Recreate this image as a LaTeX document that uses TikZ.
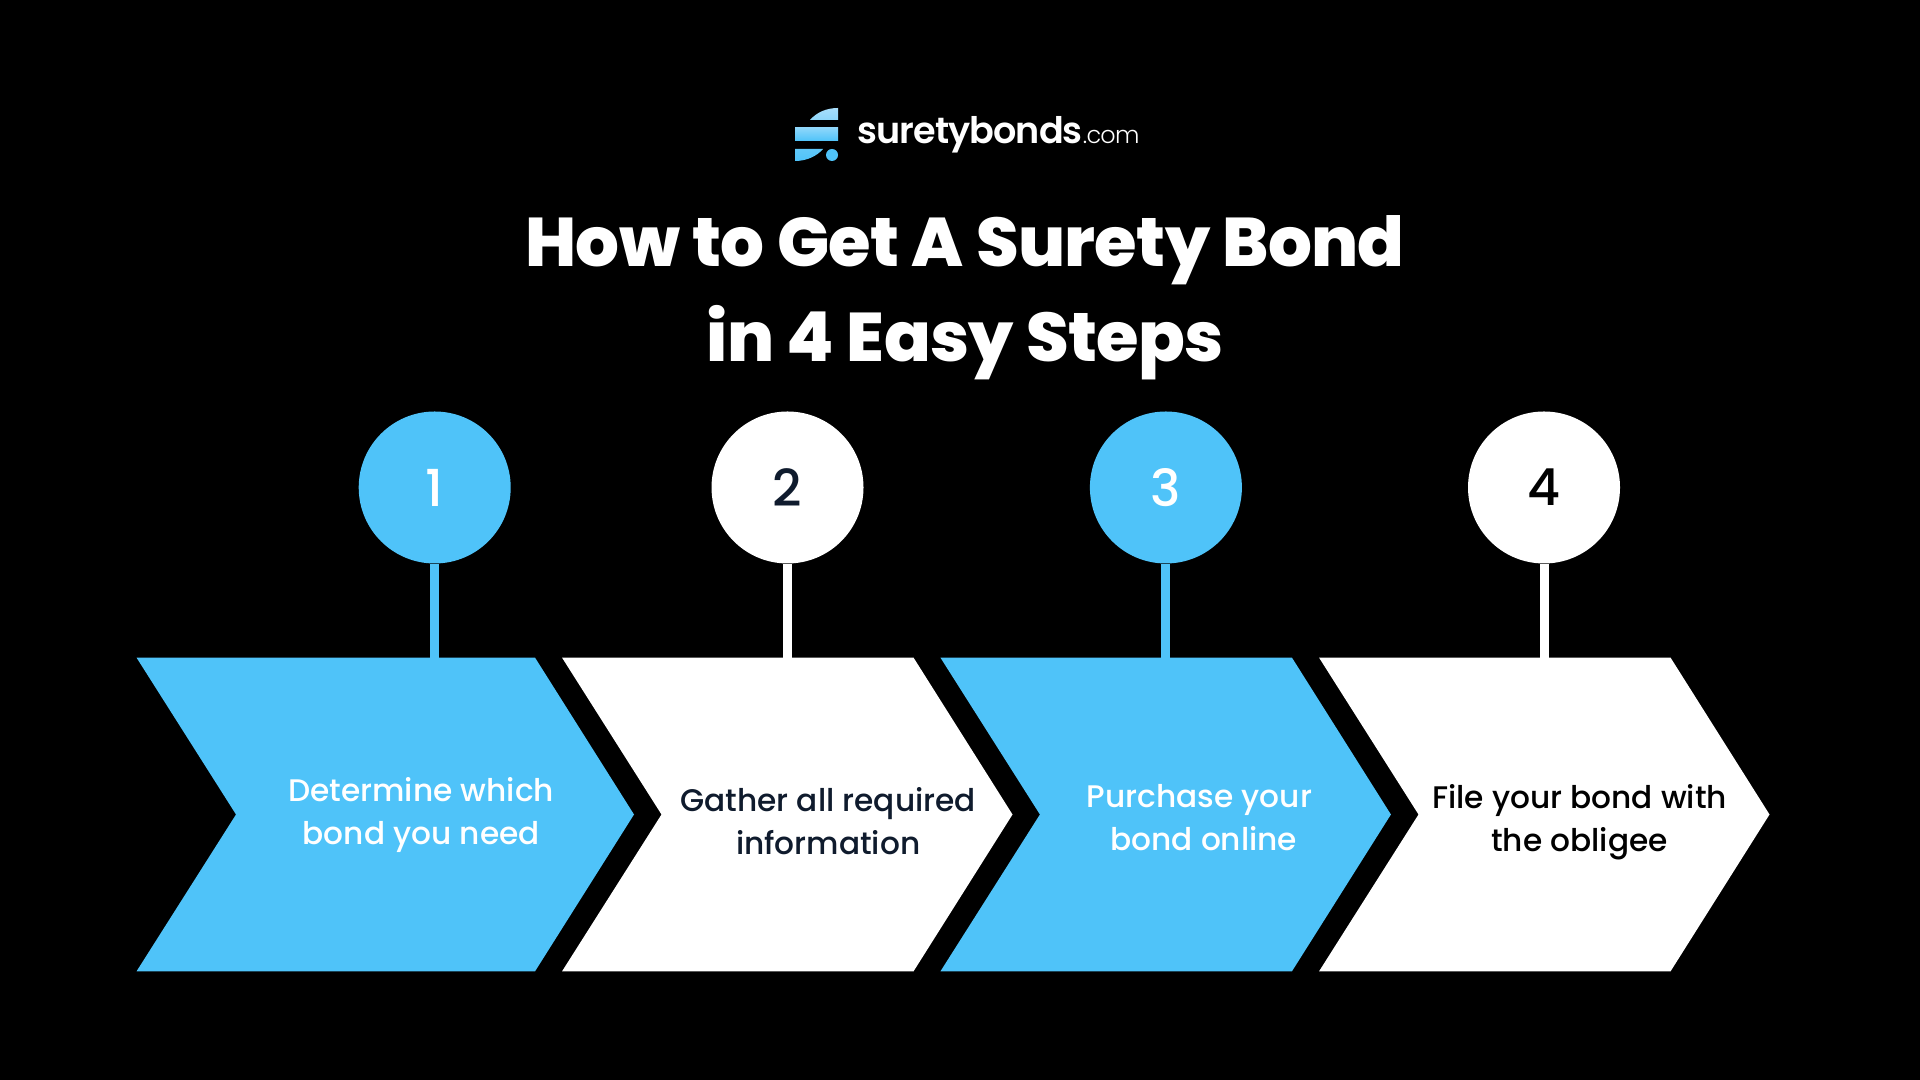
\documentclass[tikz,border=0pt]{standalone}
\usepackage{fontspec}
\usepackage{tikz}
\setmainfont{Poppins}
\newfontfamily\popmedium{Poppins Medium}
\newfontfamily\poplight[LetterSpace=-3]{Poppins Light}
\newfontfamily\popsemi[LetterSpace=-2.6]{Poppins SemiBold}
\newfontfamily\popheavy[LetterSpace=-1]{Poppins ExtraBold}
\usetikzlibrary{calc}
\definecolor{bondblue}{HTML}{4FC3F9}
\definecolor{bondpale}{HTML}{A8DEFB}
\definecolor{bondnavy}{HTML}{0F1B2D}
\tikzset{
  numcirc/.style={circle,minimum size=1.52cm,inner sep=0pt,font=\popmedium\fontsize{14.5}{16}\selectfont},
  steptext/.style={align=center,inner sep=0pt,font=\popmedium\fontsize{8.88}{12.2}\selectfont},
  stem/.style={line width=0.09cm},
  titletext/.style={white,inner sep=0pt,align=center,font=\popheavy\fontsize{19.6}{27}\selectfont}
}

\begin{document}
\begin{tikzpicture}
  \useasboundingbox (0,0) rectangle (19.2,10.8);
  \fill[black] (0,0) rectangle (19.2,10.8);
  % Logo mark
  \shade[top color=bondpale,bottom color=bondpale!70!bondblue] (8.38,9.72) -- (8.38,9.60) -- (8.10,9.60) .. controls (8.17,9.68) and (8.27,9.72) .. (8.38,9.72) -- cycle;
  \shade[top color=bondpale!70!bondblue,bottom color=bondblue] (7.95,9.52) rectangle (8.38,9.39);
  \shade[top color=bondblue!80!bondpale,bottom color=bondblue] (7.95,9.31) -- (8.23,9.31) .. controls (8.17,9.24) and (8.07,9.19) .. (7.95,9.19) -- cycle;
  \fill[bondblue] (8.32,9.25) circle (0.06);
  % Logo text
  \node[white,anchor=base west,inner sep=0pt] (logotext) at (8.57,9.36) {\fontsize{10.4}{12}\selectfont\popsemi suretybonds\poplight\fontsize{6.8}{9}\selectfont.com};
  % Title
  \node[titletext,anchor=base] (titleone) at (9.65,8.13) {How to Get A Surety Bond};
  \node[titletext,anchor=base] (titletwo) at (9.65,7.18) {in 4 Easy Steps};
  % Step 1
  \begin{scope}
    \fill[bondblue] (1.365,4.224) -- (5.35,4.224) -- (6.34,2.655) -- (5.35,1.086) -- (1.365,1.086) -- (2.36,2.655) -- cycle;
    \node[numcirc,fill=bondblue,text=white] (numone) at (4.347,5.925) {1};
    \coordinate (topone) at (4.347,4.224);
    \draw[stem,bondblue] (numone) -- (topone);
    \node[steptext,text=white] (textone) at (4.212,2.653) {Determine which\\bond you need};
  \end{scope}
  % Step 2
  \begin{scope}[xshift=5.62cm]
    \fill[white] (0,4.224) -- (3.515,4.224) -- (4.505,2.655) -- (3.515,1.086) -- (0,1.086) -- (0.995,2.655) -- cycle;
    \node[numcirc,fill=white,text=bondnavy] (numtwo) at (2.255,5.925) {2};
    \coordinate (toptwo) at (2.255,4.224);
    \draw[stem,white] (numtwo) -- (toptwo);
    \node[steptext,text=bondnavy] (texttwo) at (2.662,2.59) {Gather all required\\information};
  \end{scope}
  % Step 3
  \begin{scope}[xshift=9.404cm]
    \fill[bondblue] (0,4.224) -- (3.515,4.224) -- (4.505,2.655) -- (3.515,1.086) -- (0,1.086) -- (0.995,2.655) -- cycle;
    \node[numcirc,fill=bondblue,text=white] (numthree) at (2.255,5.925) {3};
    \coordinate (topthree) at (2.255,4.224);
    \draw[stem,bondblue] (numthree) -- (topthree);
    \node[steptext,text=white] (textthree) at (2.59,2.62) {Purchase your\\\hspace*{0.28em}bond online};
  \end{scope}
  % Step 4
  \begin{scope}[xshift=13.19cm]
    \fill[white] (0,4.224) -- (3.515,4.224) -- (4.505,2.655) -- (3.515,1.086) -- (0,1.086) -- (0.995,2.655) -- cycle;
    \node[numcirc,fill=white,text=black] (numfour) at (2.25,5.925) {4};
    \coordinate (topfour) at (2.25,4.224);
    \draw[stem,white] (numfour) -- (topfour);
    \node[steptext,text=black] (textfour) at (2.605,2.577) {File your bond with\\the obligee};
  \end{scope}
\end{tikzpicture}
\end{document}
